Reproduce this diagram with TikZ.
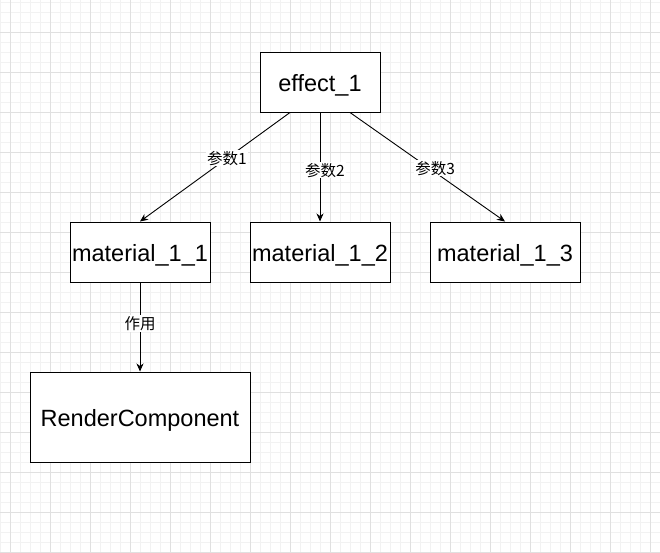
\documentclass[tikz,border=0pt]{standalone}
\usepackage{fontspec}
\setmainfont{Liberation Sans}
\newfontfamily\cjk{Noto Sans CJK SC}
\usetikzlibrary{arrows.meta,calc}
\definecolor{minorgrid}{HTML}{F2F2F2}
\definecolor{majorgrid}{HTML}{E0E0E0}
\begin{document}
\begin{tikzpicture}[x=1pt,y=-1pt,
  box/.style={draw=black, line width=1pt, fill=white, inner sep=0pt, text height=19.5pt, text depth=0pt, font=\fontsize{23.5}{28}\selectfont},
  conn/.style={draw=black, line width=0.9pt, -{Stealth[length=8pt,width=7pt,inset=2.5pt]}},
  lbl/.style={fill=white, inner sep=1pt, font=\cjk\fontsize{15.5}{18}\selectfont},
  mingrid/.style={draw=minorgrid, line width=0.6pt},
  majgrid/.style={draw=majorgrid, line width=0.8pt}]
\useasboundingbox (0,0) rectangle (660,552);
\fill[white] (0,0) rectangle (660,552);
\foreach \x in {0,10,...,660} \draw[mingrid] (\x,0) -- (\x,552);
\foreach \y in {2,12,...,552} \draw[mingrid] (0,\y) -- (660,\y);
\foreach \x in {10,50,...,650} \draw[majgrid] (\x,0) -- (\x,552);
\foreach \y in {32,72,...,552} \draw[majgrid] (0,\y) -- (660,\y);

\node[box, minimum width=120pt, minimum height=60pt] (e) at (320,82) {effect\_1};
\node[box, minimum width=140pt, minimum height=60pt] (m1) at (140,252) {material\_1\_1};
\node[box, minimum width=140pt, minimum height=60pt] (m2) at (320,252) {material\_1\_2};
\node[box, minimum width=150pt, minimum height=60pt] (m3) at (505,252) {material\_1\_3};
\node[box, minimum width=220pt, minimum height=90pt] (rc) at (140,417) {RenderComponent};

\draw[conn] ($(e.south)+(-30,0)$) -- node[lbl,pos=0.42]{参数1} (m1.north);
\draw[conn] (e.south) -- node[lbl,pos=0.53,xshift=5pt]{参数2} (m2.north);
\draw[conn] ($(e.south)+(30,0)$) -- node[lbl,pos=0.51,xshift=6pt]{参数3} (m3.north);
\draw[conn] (m1.south) -- node[lbl,pos=0.46]{作用} (rc.north);
\end{tikzpicture}
\end{document}
